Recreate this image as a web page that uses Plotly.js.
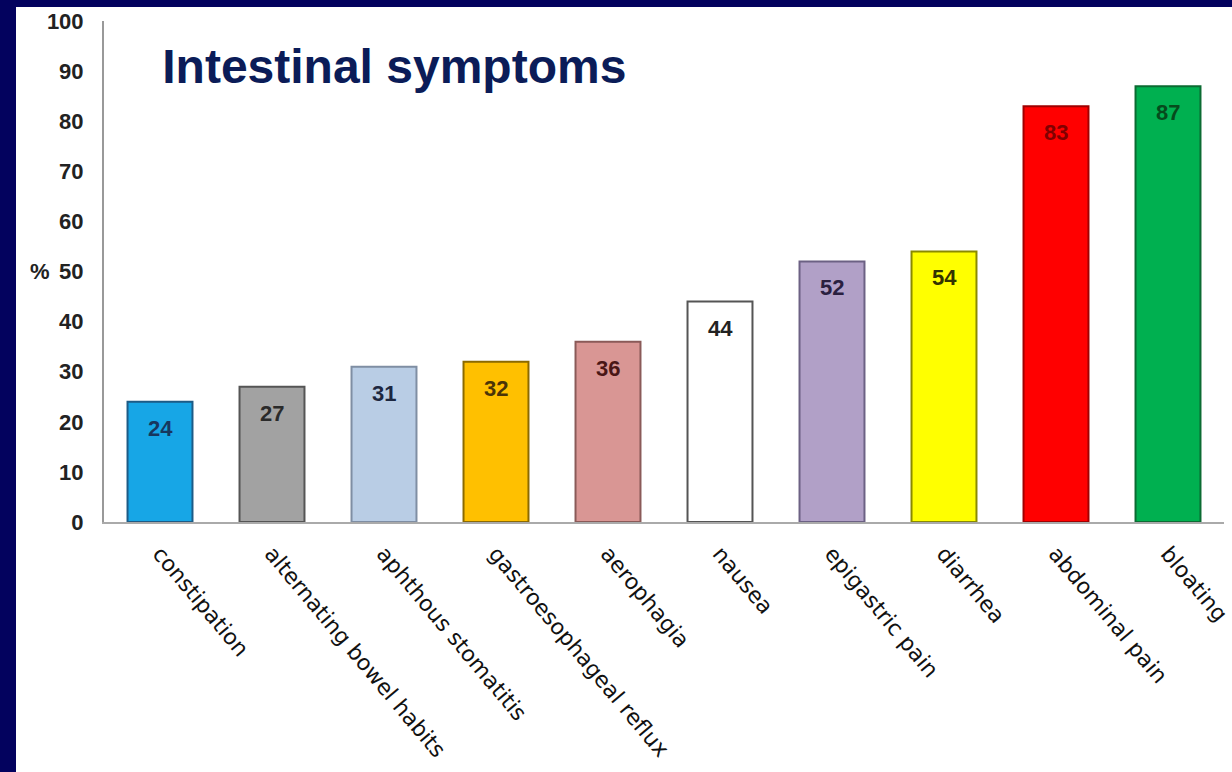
<!DOCTYPE html>
<html>
<head>
<meta charset="utf-8">
<script src="https://cdn.plot.ly/plotly-3.0.1.min.js"></script>
<style>
  html, body { margin: 0; padding: 0; background: #03025e; width: 1232px; height: 772px; overflow: hidden; }
  #chart { position: absolute; left: 16px; top: 7px; width: 1216px; height: 765px; background: #ffffff; }
</style>
</head>
<body>
<div id="chart"></div>
<script>
const categories = ["constipation", "alternating bowel habits", "aphthous stomatitis", "gastroesophageal reflux", "aerophagia", "nausea", "epigastric pain", "diarrhea", "abdominal pain", "bloating"];
const values = [24, 27, 31, 32, 36, 44, 52, 54, 83, 87];
const barColors = ["#17a6e6", "#a2a2a2", "#b9cde5", "#ffc000", "#d99694", "#ffffff", "#b1a0c7", "#ffff00", "#ff0000", "#00b050"];
const borderColors = ["#1d5b86", "#555555", "#7f8ea3", "#8c6a00", "#8a5a58", "#555555", "#6c6184", "#8a8a00", "#a00000", "#0b6b32"];
const labelColors = ["#17375e", "#2a2a2a", "#1c2740", "#4a3508", "#4a1616", "#222222", "#2a2040", "#333300", "#800000", "#064a1c"];
const yTicks = [0, 10, 20, 30, 40, 50, 60, 70, 80, 90, 100];

const trace = {
  type: "bar",
  x: categories,
  y: values,
  width: 0.58,
  marker: { color: barColors, line: { color: borderColors, width: 2 } },
  hoverinfo: "x+y"
};

const annotations = categories.map((c, i) => ({
  x: c, y: values[i], xref: "x", yref: "y",
  text: String(values[i]), showarrow: false,
  yanchor: "top", yshift: -12,
  font: { family: "Liberation Sans, Arial, sans-serif", size: 22, weight: 700, color: labelColors[i] }
}));
annotations.push({
  x: -0.046, xref: "paper", xanchor: "right",
  y: 50, yref: "y", yanchor: "middle",
  text: "%", showarrow: false,
  font: { family: "Liberation Sans, Arial, sans-serif", size: 22, weight: 700, color: "#222222" }
});

const layout = {
  width: 1216, height: 765,
  paper_bgcolor: "#ffffff", plot_bgcolor: "#ffffff",
  margin: { l: 88, r: 8, t: 14, b: 250 },
  showlegend: false,
  title: {
    text: "Intestinal symptoms",
    xref: "paper", x: 0.052, xanchor: "left",
    yref: "container", y: 0.945, yanchor: "top",
    font: { family: "Liberation Sans, Arial, sans-serif", size: 48, weight: 700, color: "#0b1c58" }
  },
  xaxis: {
    type: "category",
    showline: true, linecolor: "#aaaaaa", linewidth: 2,
    ticks: "", tickangle: 50,
    ticklabelstandoff: 8,
    tickfont: { family: "DejaVu Sans, Verdana, sans-serif", size: 22, color: "#111111" },
    showgrid: false, zeroline: false
  },
  yaxis: {
    range: [0, 100],
    tickvals: yTicks, ticktext: yTicks.map(String),
    showline: true, linecolor: "#999999", linewidth: 2,
    ticks: "", ticklabelstandoff: 14,
    tickfont: { family: "Liberation Sans, Arial, sans-serif", size: 22, weight: 700, color: "#222222" },
    showgrid: false, zeroline: false
  },
  annotations: annotations
};

Plotly.newPlot("chart", [trace], layout, { displayModeBar: false, staticPlot: true });
</script>
</body>
</html>
